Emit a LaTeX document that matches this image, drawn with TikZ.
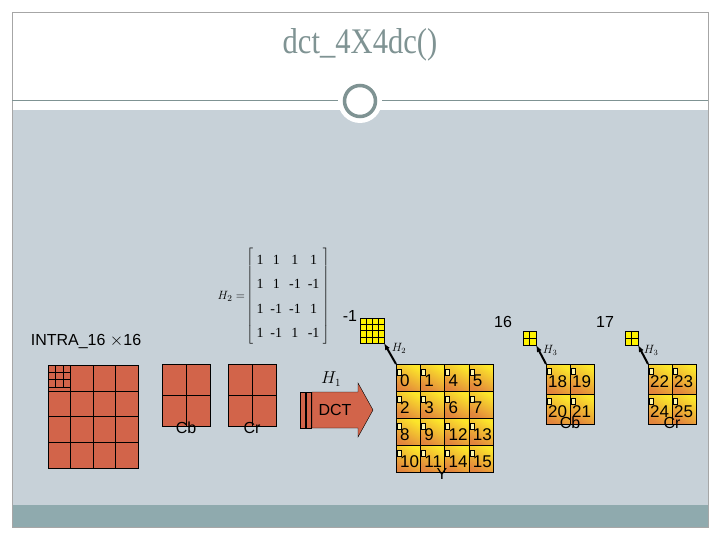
\documentclass[tikz,border=0pt]{standalone}
\usepackage{fontspec}
\setmainfont{Liberation Serif}
\setsansfont{Liberation Sans}
\usetikzlibrary{arrows.meta, calc, positioning}
\definecolor{slidebg}{HTML}{C7D1D8}
\definecolor{slidebar}{HTML}{8FAAAE}
\definecolor{titlegray}{HTML}{7F9393}
\definecolor{blockred}{HTML}{D2644A}
\definecolor{celly}{HTML}{FCE62A}
\definecolor{cello}{HTML}{E2853C}
\tikzset{
  redcell/.style={fill=blockred, draw=black, thin},
  ycell/.style={draw=black, thin, top color=celly, bottom color=cello, shading angle=-30},
  numtxt/.style={font=\sffamily\fontsize{17}{17}\selectfont, inner sep=0pt},
  lbl/.style={font=\sffamily\fontsize{16}{16}\selectfont, inner sep=0pt},
  dcmark/.style={draw=black, fill=celly!40, line width=0.5pt},
  smallgrid/.style={draw=black, fill=yellow, line width=0.5pt},
  hlbl/.style={font=\itshape\fontsize{12}{12}\selectfont, inner sep=0pt},
}
\begin{document}
\begin{tikzpicture}[x=1pt, y=-1pt]
	\useasboundingbox (0,0) rectangle (720,540);
	\fill[white] (0,0) rectangle (720,540);

	% frame and background
	\fill[slidebg] (12,110) rectangle (708,505);
	\fill[slidebar] (12,505) rectangle (708,527);
	\draw[gray!70] (12,12) rectangle (708,527);
	\draw[titlegray] (12,100) -- (708,100);
	\node[circle, fill=white, minimum size=44pt, inner sep=0pt] (ring) at (360,101) {};
	\draw[titlegray, line width=3.5pt] (ring.center) circle (15.5);
	\node[text=titlegray, font=\fontsize{36}{36}\selectfont, xscale=0.85] (title) at (360,45) {dct\_4X4dc()};

	% matrix
	\node[font=\fontsize{14}{14}\selectfont, inner sep=0pt] (hmat) at (288,296)
		{$\left[\renewcommand{\arraystretch}{1.75}\setlength{\tabcolsep}{3.5pt}\begin{tabular}{cccc}
		1 & 1 & 1 & 1\\ 1 & 1 & -1 & -1\\ 1 & -1 & -1 & 1\\ 1 & -1 & 1 & -1
		\end{tabular}\right]$};
	\node[font=\fontsize{13}{13}\selectfont, inner sep=0pt, left=1pt of hmat] (hname) {$H_2=$};
	\node[lbl] (minus) at (350,316) {-1};
	\node[lbl] (intra) at (86,342) {INTRA\_16 $\times$16};

	% 16x16 block
	\foreach \i in {0,...,3}
		\foreach \j in {0,...,3}
			\draw[redcell] ({48+22.5*\i},{365+25.75*\j}) rectangle ++(22.5,25.75);
	\foreach \k in {1,2}
	{
		\draw[black, thin] ({48+7.5*\k},365) -- ++(0,22);
		\draw[black, thin] (48,{365+7.3*\k}) -- ++(22.5,0);
	}
	\draw[black, thin] (48,387) -- (70.5,387);
	\draw[black, line width=1.2pt] (70.5,365) -- (70.5,468);

	% chroma blocks
	\foreach \x/\t in {162/Cb, 228/Cr}
	{
		\foreach \i in {0,1}
			\foreach \j in {0,1}
				\draw[redcell] ({\x+24*\i},{364+31*\j}) rectangle ++(24,31);
		\node[lbl] (lbl\t) at ({\x+24},428) {\t};
	}

	% DCT arrow
	\draw[redcell] (300,392) rectangle (305,428);
	\draw[redcell] (306,392) rectangle (311,428);
	\draw[redcell] (312,392) -- (358,392) -- (358,383) -- (373,410) -- (358,437) -- (358,428) -- (312,428) -- cycle;
	\node[lbl] (dct) at (335,410) {DCT};
	\node[font=\sffamily\fontsize{16}{16}\selectfont] (h1) at (331,379) {$H_1$};

	% Y block
	\foreach \n [count=\c from 0] in {0,1,4,5,2,3,6,7,8,9,12,13,10,11,14,15}
	{
		\pgfmathtruncatemacro{\i}{mod(\c,4)}
		\pgfmathtruncatemacro{\j}{int(\c/4)}
		\shade[ycell] ({396+24.25*\i},{364+27*\j}) coordinate (y\c) rectangle ++(24.25,27);
		\draw[dcmark] ($(y\c)+(1,5)$) rectangle ++(4,6);
		\node[numtxt, anchor=west] (ny\c) at ($(y\c)+(4,17)$) {\n};
	}
	\node[lbl] (ly) at (442,474) {Y};

	% chroma result blocks
	\foreach \x/\a/\b/\cc/\d/\t in {546/18/19/20/21/Cb, 648/22/23/24/25/Cr}
	{
		\foreach \n [count=\c from 0] in {\a,\b,\cc,\d}
		{
			\pgfmathtruncatemacro{\i}{mod(\c,2)}
			\pgfmathtruncatemacro{\j}{int(\c/2)}
			\shade[ycell] ({\x+24*\i},{364+30*\j}) coordinate (c\t\c) rectangle ++(24,30);
			\draw[dcmark] ($(c\t\c)+(1,4)$) rectangle ++(4,6);
			\node[numtxt, anchor=west] (n\t\c) at ($(c\t\c)+(2,18)$) {\n};
		}
		\node[lbl] (l\t) at ({\x+24},423) {\t};
	}

	% small coefficient grids
	\draw[smallgrid] (360,318) rectangle (384,343);
	\foreach \k in {1,2,3}
	{
		\draw[black, line width=0.4pt] ({360+6*\k},318) -- ++(0,25);
		\draw[black, line width=0.4pt] (360,{318+6.25*\k}) -- ++(24,0);
	}
	\coordinate (gy) at (384,343);
	\foreach \x/\t in {523/Cb, 625/Cr}
	{
		\draw[smallgrid] (\x,331) rectangle ++(13,14);
		\draw[black, line width=0.4pt] ({\x+6.5},331) -- ++(0,14);
		\draw[black, line width=0.4pt] (\x,338) -- ++(13,0);
		\coordinate (g\t) at ({\x+13},345);
	}
	\node[lbl] (n16) at (503,322) {16};
	\node[lbl] (n17) at (605,322) {17};

	\draw[-{Latex[length=7pt]}, line width=2pt] (y0) -- (gy);
	\draw[-{Latex[length=7pt]}, line width=2pt] (cCb0) -- (gCb);
	\draw[-{Latex[length=7pt]}, line width=2pt] (cCr0) -- (gCr);
	\node[hlbl] (h2) at (399,348) {$H_2$};
	\node[hlbl] (h3a) at (550,350) {$H_3$};
	\node[hlbl] (h3b) at (651,350) {$H_3$};

\end{tikzpicture}
\end{document}
